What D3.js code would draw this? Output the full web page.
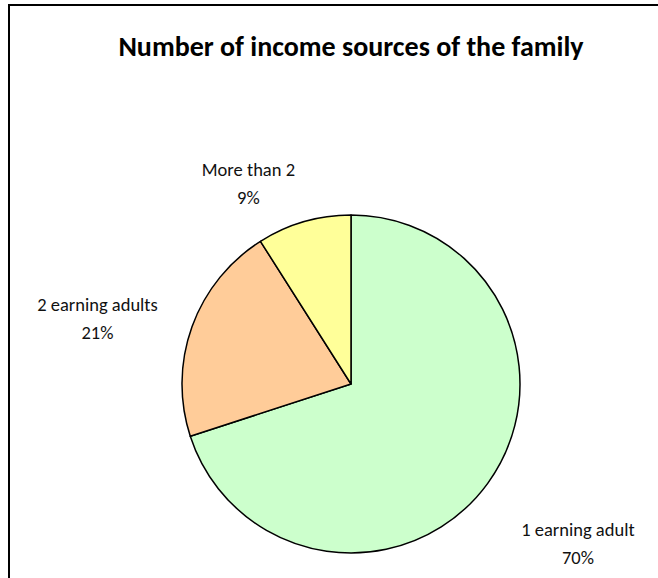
<!DOCTYPE html>
<html>
<head>
<meta charset="utf-8">
<script src="https://cdn.jsdelivr.net/npm/d3@7"></script>
<style>
  body { margin: 0; background: #fff; }
  svg { display: block; }
</style>
</head>
<body>
<div id="chart"></div>
<script>
// chart data
const categories = ["1 earning adult", "2 earning adults", "More than 2"];
const shares = [70, 21, 9];
const sliceColors = ["#ccffcc", "#ffcc99", "#ffff99"];
const chartTitle = "Number of income sources of the family";

const width = 658, height = 578;
const cx = 351, cy = 384, radius = 169;
const fontFamily = "Calibri, Carlito, Lato, sans-serif";

// label placement (radius from centre, angle nudge in degrees) - mimics Excel best fit
const labelSpots = [
    { r: 277, nudge: -1 },
    { r: 262, nudge: -5.2 },
    { r: 226, nudge: -10.8 }
];

const svg = d3.select("#chart")
    .append("svg")
    .attr("width", width)
    .attr("height", height);

// chart area frame (right & bottom edge run off the picture)
svg.append("rect")
    .attr("x", 9)
    .attr("y", 5)
    .attr("width", 700)
    .attr("height", 700)
    .attr("fill", "none")
    .attr("stroke", "#000")
    .attr("stroke-width", 2);

svg.append("text")
    .attr("x", cx)
    .attr("y", 56)
    .attr("text-anchor", "middle")
    .style("font-family", fontFamily)
    .style("font-weight", "bold")
    .style("font-size", "28px")
    .text(chartTitle);

const pie = d3.pie().sort(null).value(d => d);
const arcs = pie(shares);
const arc = d3.arc().innerRadius(0).outerRadius(radius);

const g = svg.append("g").attr("transform", `translate(${cx},${cy})`);

g.selectAll("path")
    .data(arcs)
    .enter()
    .append("path")
    .attr("d", arc)
    .attr("fill", (d, i) => sliceColors[i])
    .attr("stroke", "#000")
    .attr("stroke-width", 1.5)
    .attr("stroke-linejoin", "round");

const total = d3.sum(shares);

const labels = g.selectAll("g.lbl")
    .data(arcs)
    .enter()
    .append("g")
    .attr("class", "lbl")
    .attr("transform", (d, i) => {
        const a = (d.startAngle + d.endAngle) / 2 + labelSpots[i].nudge * Math.PI / 180;
        const r = labelSpots[i].r;
        return `translate(${r * Math.sin(a)},${-r * Math.cos(a)})`;
    });

labels.append("text")
    .attr("text-anchor", "middle")
    .attr("y", -7)
    .style("font-family", fontFamily)
    .style("font-size", "18.5px")
    .attr("fill", "#111")
    .text((d, i) => categories[i]);

labels.append("text")
    .attr("text-anchor", "middle")
    .attr("y", 21)
    .style("font-family", fontFamily)
    .style("font-size", "18.5px")
    .attr("fill", "#111")
    .text(d => Math.round(d.value / total * 100) + "%");
</script>
</body>
</html>
